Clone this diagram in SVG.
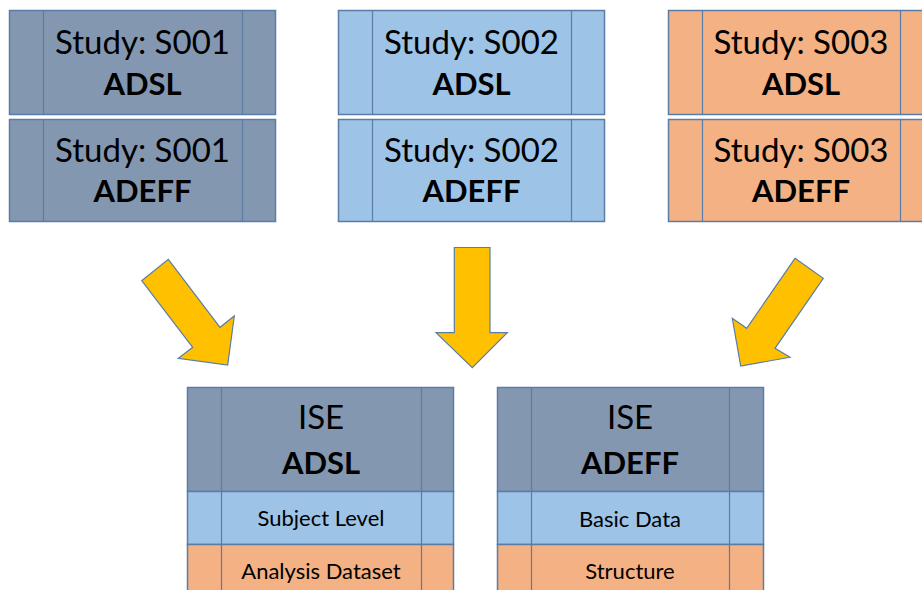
<svg xmlns="http://www.w3.org/2000/svg" width="922" height="590" viewBox="0 0 922 590">
<style>
.box{stroke:#5A7DA8;stroke-width:1.5}
.ln{stroke:#5A7DA8;stroke-width:1.2;fill:none}
.dk{fill:#8497B0}
.bl{fill:#9DC3E6}
.or{fill:#F4B183}
.t{font-family:Lato,"Open Sans","Liberation Sans",sans-serif;text-anchor:middle;fill:#000}
.big{font-size:33px}
.bold{font-size:31px;font-weight:bold}
.sm{font-size:22px}
.arrow{fill:#FFC000;stroke:#5A7DA8;stroke-width:1.2;stroke-linejoin:miter}
</style>
<rect width="922" height="590" fill="#fff"/>
<g id="s001-adsl">
<rect class="box dk" x="9.5" y="10.5" width="266" height="104"/>
<path class="ln" d="M43.5 10.5V114.5M242.5 10.5V114.5"/>
<text class="t big" x="142.5" y="54">Study: S001</text>
<text class="t bold" x="142.5" y="95">ADSL</text>
</g>
<g id="s001-adeff">
<rect class="box dk" x="9.5" y="119.5" width="266" height="102"/>
<path class="ln" d="M43.5 119.5V221.5M242.5 119.5V221.5"/>
<text class="t big" x="142.5" y="162">Study: S001</text>
<text class="t bold" x="142.5" y="202">ADEFF</text>
</g>
<g id="s002-adsl">
<rect class="box bl" x="338.5" y="10.5" width="266" height="104"/>
<path class="ln" d="M372.5 10.5V114.5M571.5 10.5V114.5"/>
<text class="t big" x="471.5" y="54">Study: S002</text>
<text class="t bold" x="471.5" y="95">ADSL</text>
</g>
<g id="s002-adeff">
<rect class="box bl" x="338.5" y="119.5" width="266" height="102"/>
<path class="ln" d="M372.5 119.5V221.5M571.5 119.5V221.5"/>
<text class="t big" x="471.5" y="162">Study: S002</text>
<text class="t bold" x="471.5" y="202">ADEFF</text>
</g>
<g id="s003-adsl">
<rect class="box or" x="668.5" y="10.5" width="266" height="104"/>
<path class="ln" d="M702.5 10.5V114.5M900.5 10.5V114.5"/>
<text class="t big" x="801" y="54">Study: S003</text>
<text class="t bold" x="801" y="95">ADSL</text>
</g>
<g id="s003-adeff">
<rect class="box or" x="668.5" y="119.5" width="266" height="102"/>
<path class="ln" d="M702.5 119.5V221.5M900.5 119.5V221.5"/>
<text class="t big" x="801" y="162">Study: S003</text>
<text class="t bold" x="801" y="202">ADEFF</text>
</g>
<g id="ise-adsl">
<rect class="box dk" x="187.5" y="387.5" width="266" height="104"/>
<rect class="box bl" x="187.5" y="491.5" width="266" height="53"/>
<rect class="box or" x="187.5" y="544.5" width="266" height="60"/>
<path class="ln" d="M221.5 387.5V600M421.5 387.5V600"/>
<text class="t big" x="321" y="429">ISE</text>
<text class="t bold" x="321" y="474">ADSL</text>
<text class="t sm" x="321" y="526">Subject Level</text>
<text class="t sm" x="321" y="579">Analysis Dataset</text>
</g>
<g id="ise-adeff">
<rect class="box dk" x="497.5" y="387.5" width="266" height="104"/>
<rect class="box bl" x="497.5" y="491.5" width="266" height="53"/>
<rect class="box or" x="497.5" y="544.5" width="266" height="60"/>
<path class="ln" d="M531.5 387.5V600M729.5 387.5V600"/>
<text class="t big" x="630" y="429">ISE</text>
<text class="t bold" x="630" y="474">ADEFF</text>
<text class="t sm" x="630" y="527">Basic Data</text>
<text class="t sm" x="630" y="579">Structure</text>
</g>
<g id="connectors">
<polygon class="arrow" points="141.7,280.7 168.3,259.3 220,327.3 234.3,316 227.7,365 178.3,358.3 192.7,347.3"/>
<polygon class="arrow" points="454.3,247.5 490,247.5 490,332.7 507.3,332.7 472.3,367.7 436,332.7 454.3,332.7"/>
<polygon class="arrow" points="795,258.3 823.3,278.3 775,348.3 790,357.3 740.7,366 732.3,318.3 746.7,328.3"/>
</g>
</svg>
